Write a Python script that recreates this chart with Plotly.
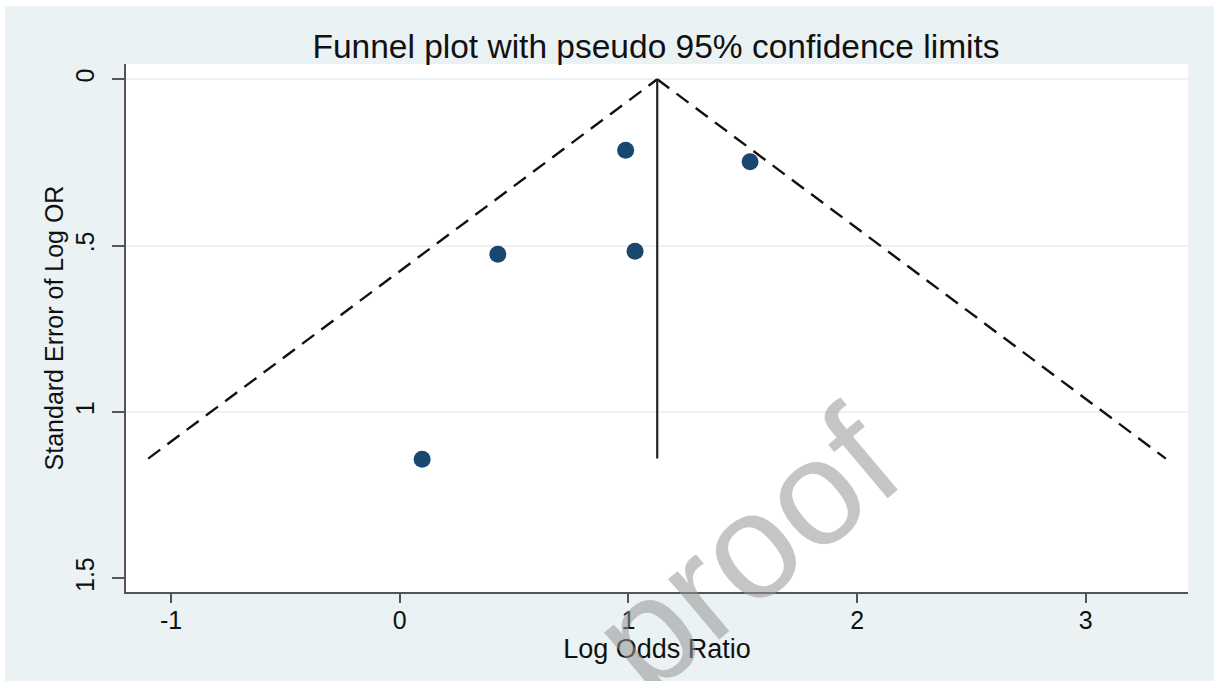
import plotly.graph_objects as go

# Study data
log_or = [0.988, 1.532, 0.429, 1.029, 0.098]
se_log_or = [0.213, 0.248, 0.526, 0.517, 1.142]

# Pooled estimate and pseudo 95% limits
pooled = 1.126
se_max = 1.140
funnel_left_x = [-1.10, 1.126]
funnel_right_x = [1.126, 3.35]
funnel_y = [1.140, 0.0]
funnel_y_r = [0.0, 1.140]

x_ticks = [-1, 0, 1, 2, 3]
x_tick_labels = ["-1", "0", "1", "2", "3"]
y_ticks = [0, 0.5, 1, 1.5]
y_tick_labels = ["0", ".5", "1", "1.5"]
grid_vals = [0, 0.5, 1]

BG = "#EAF2F3"
AXC = "#555555"
FONT = "Liberation Sans, Arial, sans-serif"

fig = go.Figure()

# invisible trace on overlay axis to draw gridlines only at 0, .5, 1
fig.add_trace(go.Scatter(x=[pooled], y=[0], mode="markers", marker=dict(opacity=0),
                         yaxis="y2", showlegend=False, hoverinfo="skip"))

fig.add_trace(go.Scatter(x=funnel_left_x, y=funnel_y, mode="lines",
                         line=dict(color="#111111", width=2.4, dash="15px,9px"),
                         showlegend=False, hoverinfo="skip"))
fig.add_trace(go.Scatter(x=funnel_right_x, y=funnel_y_r, mode="lines",
                         line=dict(color="#111111", width=2.4, dash="15px,9px"),
                         showlegend=False, hoverinfo="skip"))
fig.add_trace(go.Scatter(x=[pooled, pooled], y=[0, se_max], mode="lines",
                         line=dict(color="#222222", width=2.2),
                         showlegend=False, hoverinfo="skip"))
fig.add_trace(go.Scatter(x=log_or, y=se_log_or, mode="markers",
                         marker=dict(color="#1A476F", size=17, line=dict(width=0)),
                         showlegend=False))

yrange = [1.541, -0.046]

fig.update_layout(
    width=1214, height=681,
    margin=dict(l=126, r=26, t=64, b=89, pad=0),
    paper_bgcolor=BG,
    plot_bgcolor="white",
    font=dict(family=FONT, color="#111111"),
    title=dict(text="Funnel plot with pseudo 95% confidence limits",
               x=656 / 1214, xanchor="center",
               y=1 - 46 / 681, yanchor="middle",
               font=dict(size=33.5, family=FONT, color="#111111")),
    xaxis=dict(range=[-1.197, 3.447], tickvals=x_ticks, ticktext=x_tick_labels,
               showgrid=False, zeroline=False, showline=True, linecolor=AXC, linewidth=2,
               ticks="outside", ticklen=9, tickwidth=2, tickcolor=AXC,
               tickfont=dict(size=25, family=FONT, color="#111111"),
               ticklabelstandoff=-4,
               title=dict(text="Log Odds Ratio", standoff=0,
                          font=dict(size=27, family=FONT, color="#111111")),
               automargin=False),
    yaxis=dict(range=yrange, tickvals=y_ticks, ticktext=y_tick_labels,
               showgrid=False, zeroline=False, showline=True, linecolor=AXC, linewidth=2,
               ticks="outside", ticklen=12, tickwidth=2, tickcolor=AXC,
               tickangle=-90,
               tickfont=dict(size=25, family=FONT, color="#111111"),
               ticklabelstandoff=8,
               title=dict(text="Standard Error of Log OR", standoff=0,
                          font=dict(size=25, family=FONT, color="#111111")),
               automargin=False),
    yaxis2=dict(range=yrange, overlaying="y", tickvals=grid_vals, showticklabels=False,
                showgrid=True, gridcolor=BG, gridwidth=2, zeroline=False,
                showline=False, ticks=""),
)

# white outer border strips (top and left) as in the reference
fig.add_shape(type="rect", xref="paper", yref="paper",
              x0=-126 / 1062, x1=(1214 - 126) / 1062,
              y0=(592 - 6) / 528, y1=(592) / 528 + 1,
              fillcolor="white", line=dict(width=0), layer="below")
fig.add_shape(type="rect", xref="paper", yref="paper",
              x0=-126 / 1062, x1=(5 - 126) / 1062,
              y0=-89 / 528 - 0.1, y1=(592) / 528 + 1,
              fillcolor="white", line=dict(width=0), layer="below")

# watermark
fig.add_annotation(text="proof", x=(745 - 126) / 1062, y=(592 - 550) / 528,
                   xref="paper", yref="paper", showarrow=False,
                   textangle=-40, xanchor="center", yanchor="middle",
                   font=dict(size=150, family=FONT, color="rgba(150,150,150,0.55)"))

fig.write_html("out.html")
